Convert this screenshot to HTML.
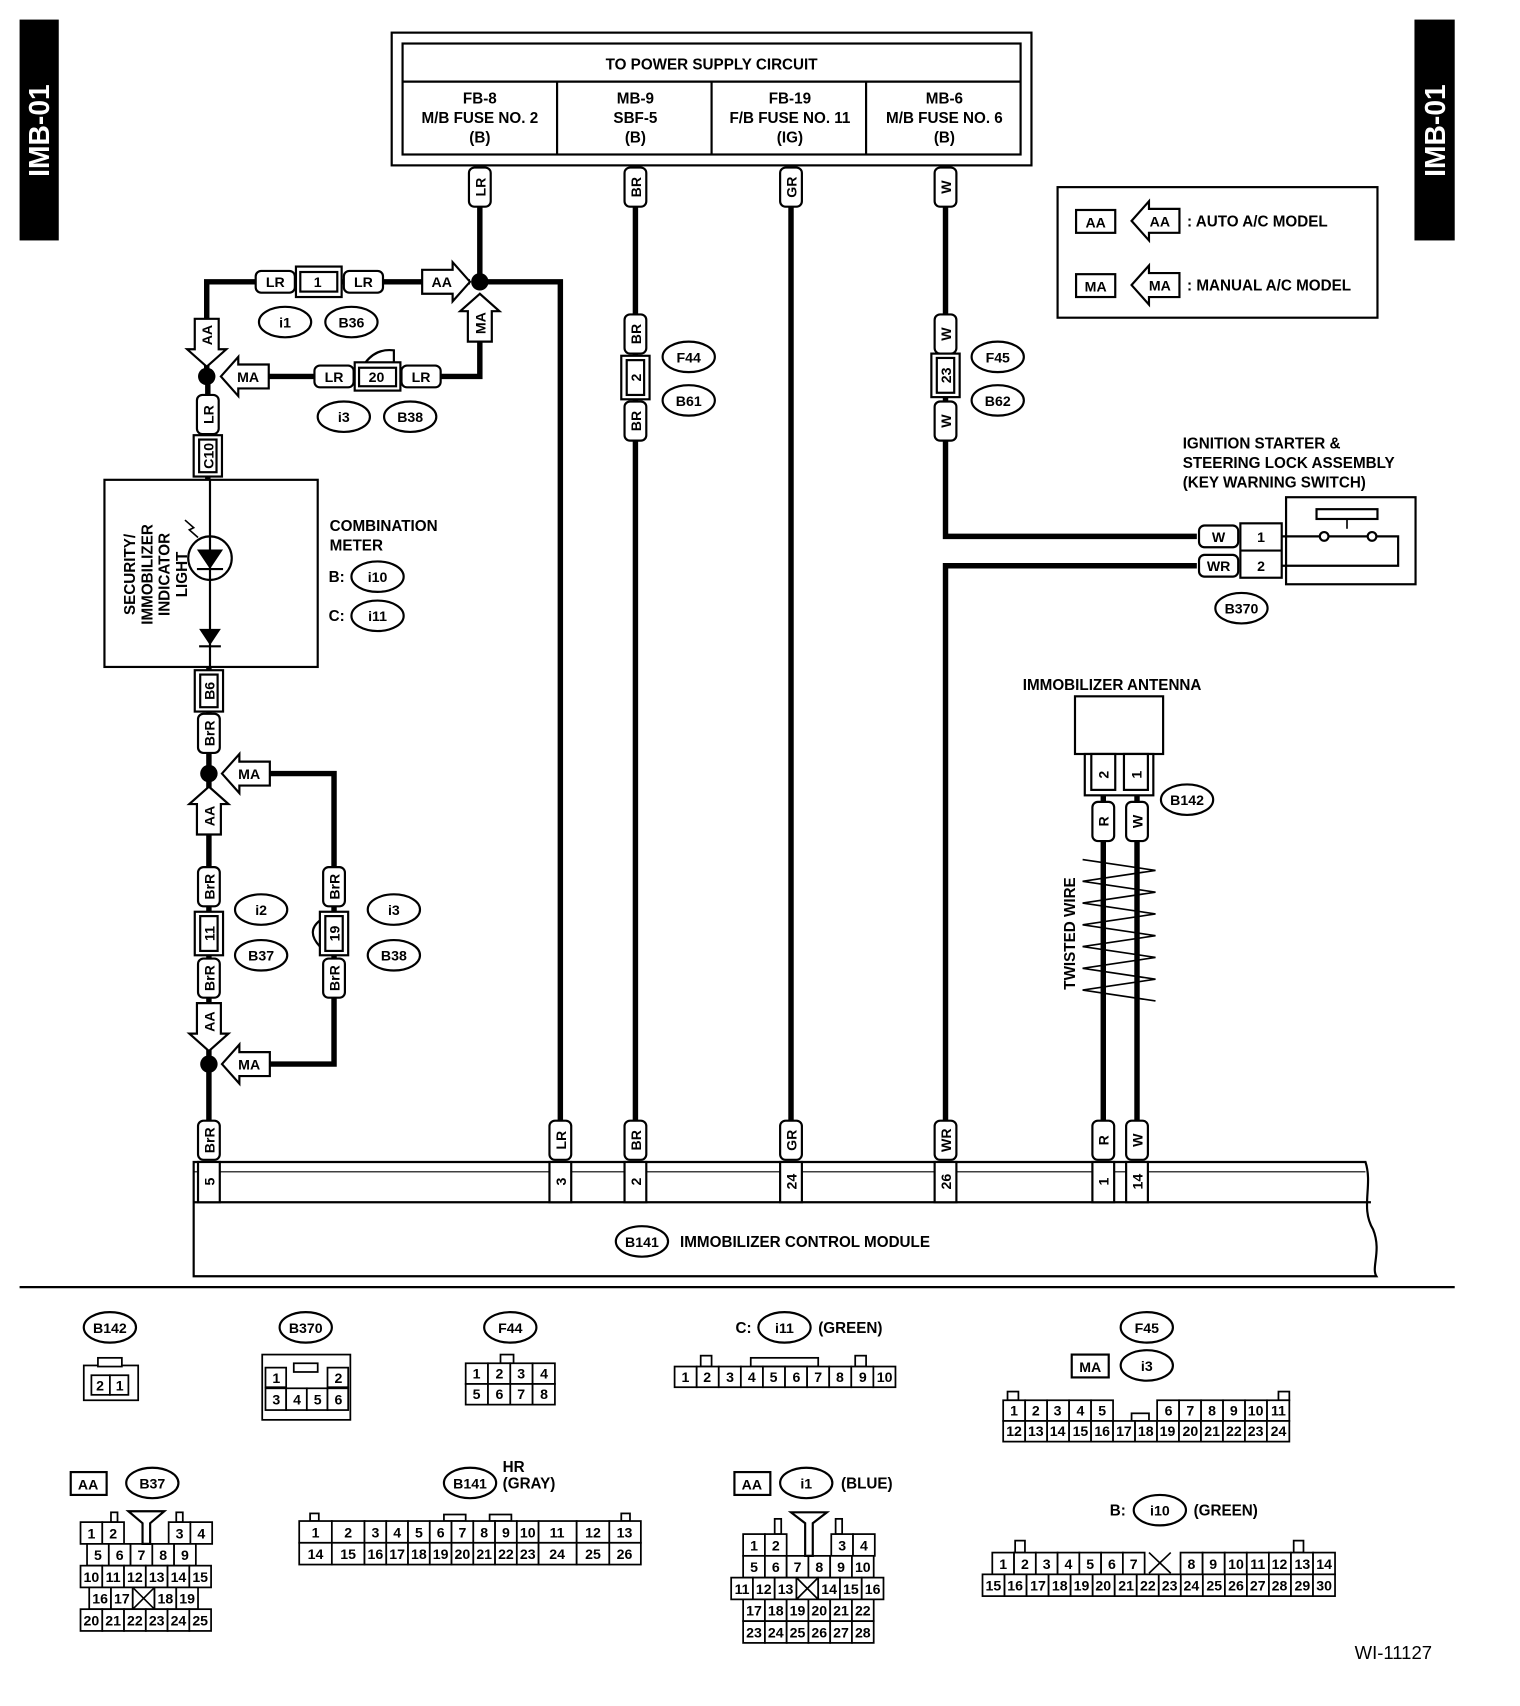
<!DOCTYPE html>
<html><head><meta charset="utf-8"><style>
html,body{margin:0;padding:0;background:#fff;}
svg{display:block;}
text{font-family:"Liberation Sans",sans-serif;font-weight:bold;fill:#000;}
.c{font-size:13px;text-anchor:middle;}
.t{font-size:14px;}
.m{font-size:14px;text-anchor:middle;}
.cell rect{fill:#fff;stroke:#000;stroke-width:1.6;}
</style></head><body>
<svg width="1520" height="1706" viewBox="0 0 1397 1568" preserveAspectRatio="none" xmlns="http://www.w3.org/2000/svg">
<defs>
<path id="arr" d="M0,0 L-16,-18 L-16,-11 L-44,-11 L-44,11 L-16,11 L-16,18 Z" fill="#fff" stroke="#000" stroke-width="2"/>
<rect id="wl" x="-10" y="-18" width="20" height="36" rx="5" fill="#fff" stroke="#000" stroke-width="2"/>
<rect id="wlh" x="-18" y="-10" width="36" height="20" rx="5" fill="#fff" stroke="#000" stroke-width="2"/>
</defs>
<rect x="18" y="18" width="36" height="203" fill="#000"/>
<text transform="translate(45,120) rotate(-90)" font-size="26" text-anchor="middle" style="fill:#fff">IMB-01</text>
<rect x="1300" y="18" width="37" height="203" fill="#000"/>
<text transform="translate(1328,120) rotate(-90)" font-size="26" text-anchor="middle" style="fill:#fff">IMB-01</text>

<rect x="360" y="30" width="588" height="122" fill="none" stroke="#000" stroke-width="2"/>
<rect x="370" y="40" width="568" height="102" fill="none" stroke="#000" stroke-width="2"/>
<line x1="370" y1="75" x2="938" y2="75" stroke="#000" stroke-width="2"/>
<line x1="512" y1="75" x2="512" y2="142" stroke="#000" stroke-width="2"/>
<line x1="654" y1="75" x2="654" y2="142" stroke="#000" stroke-width="2"/>
<line x1="796" y1="75" x2="796" y2="142" stroke="#000" stroke-width="2"/>
<text x="654" y="64" class="m">TO POWER SUPPLY CIRCUIT</text>
<text x="441" y="95" class="m">FB-8</text><text x="441" y="113" class="m">M/B FUSE NO. 2</text><text x="441" y="131" class="m">(B)</text>
<text x="584" y="95" class="m">MB-9</text><text x="584" y="113" class="m">SBF-5</text><text x="584" y="131" class="m">(B)</text>
<text x="726" y="95" class="m">FB-19</text><text x="726" y="113" class="m">F/B FUSE NO. 11</text><text x="726" y="131" class="m">(IG)</text>
<text x="868" y="95" class="m">MB-6</text><text x="868" y="113" class="m">M/B FUSE NO. 6</text><text x="868" y="131" class="m">(B)</text>

<g stroke="#000" stroke-width="5" fill="none">
<path d="M441,190 V259 H515 V1030"/>
<path d="M432,259 H190 V346"/>
<path d="M441,272 V346 H205"/>
<path d="M191,346 V441"/>
<path d="M192,613 V1030"/>
<path d="M205,711 H307 V978 H205"/>
<path d="M584,190 V1030"/>
<path d="M727,190 V1030"/>
<path d="M869,190 V493 H1100"/>
<path d="M1100,520 H869 V1030"/>
<path d="M1014,730 V1030"/>
<path d="M1045,730 V1030"/>
</g>
<path d="M995,790 L1062,800 L995,810 L1062,820 L995,830 L1062,840 L995,850 L1062,860 L995,870 L1062,880 L995,890 L1062,900 L995,910 L1062,920" fill="none" stroke="#000" stroke-width="1.5"/>
<text transform="translate(988,858) rotate(-90)" class="m" font-size="13">TWISTED WIRE</text>

<circle cx="441" cy="259" r="8"/><circle cx="190" cy="346" r="8"/><circle cx="192" cy="711" r="8"/><circle cx="192" cy="978" r="8"/>

<g>
<use href="#wl" x="441" y="172"/><text transform="translate(446,172) rotate(-90)" class="c">LR</text>
<use href="#wl" x="584" y="172"/><text transform="translate(589,172) rotate(-90)" class="c">BR</text>
<use href="#wl" x="727" y="172"/><text transform="translate(732,172) rotate(-90)" class="c">GR</text>
<use href="#wl" x="869" y="172"/><text transform="translate(874,172) rotate(-90)" class="c">W</text>
<use href="#wl" x="191" y="381"/><text transform="translate(196,381) rotate(-90)" class="c">LR</text>
<use href="#wl" x="192" y="674"/><text transform="translate(197,674) rotate(-90)" class="c">BrR</text>
<use href="#wl" x="192" y="815"/><text transform="translate(197,815) rotate(-90)" class="c">BrR</text>
<use href="#wl" x="192" y="899"/><text transform="translate(197,899) rotate(-90)" class="c">BrR</text>
<use href="#wl" x="307" y="815"/><text transform="translate(312,815) rotate(-90)" class="c">BrR</text>
<use href="#wl" x="307" y="899"/><text transform="translate(312,899) rotate(-90)" class="c">BrR</text>
<use href="#wl" x="584" y="307"/><text transform="translate(589,307) rotate(-90)" class="c">BR</text>
<use href="#wl" x="584" y="387"/><text transform="translate(589,387) rotate(-90)" class="c">BR</text>
<use href="#wl" x="869" y="307"/><text transform="translate(874,307) rotate(-90)" class="c">W</text>
<use href="#wl" x="869" y="387"/><text transform="translate(874,387) rotate(-90)" class="c">W</text>
<use href="#wl" x="1014" y="755"/><text transform="translate(1019,755) rotate(-90)" class="c">R</text>
<use href="#wl" x="1045" y="755"/><text transform="translate(1050,755) rotate(-90)" class="c">W</text>
<use href="#wl" x="192" y="1048"/><text transform="translate(197,1048) rotate(-90)" class="c">BrR</text>
<use href="#wl" x="515" y="1048"/><text transform="translate(520,1048) rotate(-90)" class="c">LR</text>
<use href="#wl" x="584" y="1048"/><text transform="translate(589,1048) rotate(-90)" class="c">BR</text>
<use href="#wl" x="727" y="1048"/><text transform="translate(732,1048) rotate(-90)" class="c">GR</text>
<use href="#wl" x="869" y="1048"/><text transform="translate(874,1048) rotate(-90)" class="c">WR</text>
<use href="#wl" x="1014" y="1048"/><text transform="translate(1019,1048) rotate(-90)" class="c">R</text>
<use href="#wl" x="1045" y="1048"/><text transform="translate(1050,1048) rotate(-90)" class="c">W</text>
</g>
<use href="#wlh" x="253" y="259"/><text x="253" y="264" class="c">LR</text>
<use href="#wlh" x="334" y="259"/><text x="334" y="264" class="c">LR</text>
<use href="#wlh" x="307" y="346"/><text x="307" y="351" class="c">LR</text>
<use href="#wlh" x="387" y="346"/><text x="387" y="351" class="c">LR</text>
<use href="#wlh" x="1120" y="493"/><text x="1120" y="498" class="c">W</text>
<use href="#wlh" x="1120" y="520"/><text x="1120" y="525" class="c">WR</text>

<g fill="#fff" stroke="#000" stroke-width="2">
<rect x="272" y="245" width="42" height="28"/><rect x="276" y="250" width="34" height="18"/>
<rect x="326" y="333" width="42" height="26"/><rect x="330" y="338" width="34" height="17"/>
<rect x="178" y="400" width="26" height="38"/><rect x="183" y="404" width="16" height="30"/>
<rect x="179" y="616" width="26" height="38"/><rect x="184" y="620" width="16" height="30"/>
<rect x="179" y="838" width="26" height="40"/><rect x="184" y="842" width="16" height="32"/>
<rect x="294" y="838" width="26" height="40"/><rect x="299" y="842" width="16" height="32"/>
<rect x="571" y="327" width="26" height="40"/><rect x="576" y="331" width="16" height="32"/>
<rect x="856" y="325" width="26" height="40"/><rect x="861" y="329" width="16" height="32"/>
</g>
<path d="M336,333 Q346,320 362,322 V333" fill="none" stroke="#000" stroke-width="2"/>
<path d="M294,846 Q281,856 294,870" fill="none" stroke="#000" stroke-width="2"/>
<text x="292" y="264" class="c">1</text>
<text x="346" y="351" class="c">20</text>
<text transform="translate(196,419) rotate(-90)" class="c">C10</text>
<text transform="translate(197,635) rotate(-90)" class="c">B6</text>
<text transform="translate(197,858) rotate(-90)" class="c">11</text>
<text transform="translate(312,858) rotate(-90)" class="c">19</text>
<text transform="translate(589,347) rotate(-90)" class="c">2</text>
<text transform="translate(874,345) rotate(-90)" class="c">23</text>

<use href="#arr" transform="translate(432,259)"/><text x="406" y="264" class="c">AA</text>
<use href="#arr" transform="translate(190,337) rotate(90)"/><text transform="translate(195,308) rotate(-90)" class="c">AA</text>
<use href="#arr" transform="translate(203,346) rotate(180)"/><text x="228" y="351" class="c">MA</text>
<use href="#arr" transform="translate(441,270) rotate(-90)"/><text transform="translate(446,297) rotate(-90)" class="c">MA</text>
<use href="#arr" transform="translate(204,711) rotate(180)"/><text x="229" y="716" class="c">MA</text>
<use href="#arr" transform="translate(192,723) rotate(-90)"/><text transform="translate(197,750) rotate(-90)" class="c">AA</text>
<use href="#arr" transform="translate(192,966) rotate(90)"/><text transform="translate(197,939) rotate(-90)" class="c">AA</text>
<use href="#arr" transform="translate(204,978) rotate(180)"/><text x="229" y="983" class="c">MA</text>

<g fill="#fff" stroke="#000" stroke-width="2">
<ellipse cx="262" cy="296" rx="24" ry="14"/><ellipse cx="323" cy="296" rx="24" ry="14"/>
<ellipse cx="316" cy="383" rx="24" ry="14"/><ellipse cx="377" cy="383" rx="24" ry="14"/>
<ellipse cx="347" cy="530" rx="24" ry="14"/><ellipse cx="347" cy="566" rx="24" ry="14"/>
<ellipse cx="240" cy="836" rx="24" ry="14"/><ellipse cx="240" cy="878" rx="24" ry="14"/>
<ellipse cx="362" cy="836" rx="24" ry="14"/><ellipse cx="362" cy="878" rx="24" ry="14"/>
<ellipse cx="633" cy="328" rx="24" ry="14"/><ellipse cx="633" cy="368" rx="24" ry="14"/>
<ellipse cx="917" cy="328" rx="24" ry="14"/><ellipse cx="917" cy="368" rx="24" ry="14"/>
<ellipse cx="1141" cy="559" rx="24" ry="14"/><ellipse cx="1091" cy="735" rx="24" ry="14"/>
<ellipse cx="590" cy="1141" rx="24" ry="14"/>
</g>
<text x="262" y="301" class="c">i1</text><text x="323" y="301" class="c">B36</text>
<text x="316" y="388" class="c">i3</text><text x="377" y="388" class="c">B38</text>
<text x="347" y="535" class="c">i10</text><text x="347" y="571" class="c">i11</text>
<text x="240" y="841" class="c">i2</text><text x="240" y="883" class="c">B37</text>
<text x="362" y="841" class="c">i3</text><text x="362" y="883" class="c">B38</text>
<text x="633" y="333" class="c">F44</text><text x="633" y="373" class="c">B61</text>
<text x="917" y="333" class="c">F45</text><text x="917" y="373" class="c">B62</text>
<text x="1141" y="564" class="c">B370</text><text x="1091" y="740" class="c">B142</text>
<text x="590" y="1146" class="c">B141</text>

<rect x="96" y="441" width="196" height="172" fill="#fff" stroke="#000" stroke-width="2"/>
<line x1="193" y1="441" x2="193" y2="613" stroke="#000" stroke-width="2"/>
<circle cx="193" cy="513" r="20" fill="#fff" stroke="#000" stroke-width="2"/>
<line x1="193" y1="493" x2="193" y2="533" stroke="#000" stroke-width="2"/>
<path d="M181,505 H205 L193,523 Z"/><line x1="181" y1="523" x2="205" y2="523" stroke="#000" stroke-width="2"/>
<path d="M183,578 H203 L193,593 Z"/><line x1="183" y1="594" x2="203" y2="594" stroke="#000" stroke-width="2"/>
<path d="M170,478 L178,485 L174,487 L182,494" fill="none" stroke="#000" stroke-width="1.5"/>
<text transform="translate(124,528) rotate(-90)" class="m" font-size="13">SECURITY/</text>
<text transform="translate(140,528) rotate(-90)" class="m" font-size="13">IMMOBILIZER</text>
<text transform="translate(156,528) rotate(-90)" class="m" font-size="13">INDICATOR</text>
<text transform="translate(172,528) rotate(-90)" class="m" font-size="13">LIGHT</text>
<text x="303" y="488" class="t">COMBINATION</text><text x="303" y="506" class="t">METER</text>
<text x="302" y="535" class="t">B:</text><text x="302" y="571" class="t">C:</text>

<rect x="972" y="172" width="294" height="120" fill="none" stroke="#000" stroke-width="2"/>
<rect x="989" y="193" width="36" height="21" fill="#fff" stroke="#000" stroke-width="2"/><text x="1007" y="209" class="c">AA</text>
<use href="#arr" transform="translate(1040,203) rotate(180)"/><text x="1066" y="208" class="c">AA</text>
<text x="1091" y="208" class="t">: AUTO A/C MODEL</text>
<rect x="989" y="252" width="36" height="21" fill="#fff" stroke="#000" stroke-width="2"/><text x="1007" y="268" class="c">MA</text>
<use href="#arr" transform="translate(1040,262) rotate(180)"/><text x="1066" y="267" class="c">MA</text>
<text x="1091" y="267" class="t">: MANUAL A/C MODEL</text>

<text x="1087" y="412" class="t">IGNITION STARTER &amp;</text>
<text x="1087" y="430" class="t">STEERING LOCK ASSEMBLY</text>
<text x="1087" y="448" class="t">(KEY WARNING SWITCH)</text>
<rect x="1182" y="457" width="119" height="80" fill="none" stroke="#000" stroke-width="2"/>
<rect x="1140" y="481" width="38" height="50" fill="#fff" stroke="#000" stroke-width="2"/>
<line x1="1140" y1="506" x2="1178" y2="506" stroke="#000" stroke-width="2"/>
<text x="1159" y="498" class="c">1</text><text x="1159" y="525" class="c">2</text>
<rect x="1210" y="468" width="56" height="9" fill="none" stroke="#000" stroke-width="2"/>
<line x1="1238" y1="477" x2="1238" y2="486" stroke="#000" stroke-width="1.5"/>
<path d="M1178,493 H1213 M1264,493 H1285 V520 H1178 M1220,493 H1257" fill="none" stroke="#000" stroke-width="2"/>
<circle cx="1217" cy="493" r="4" fill="#fff" stroke="#000" stroke-width="2"/><circle cx="1261" cy="493" r="4" fill="#fff" stroke="#000" stroke-width="2"/>

<text x="940" y="634" class="t">IMMOBILIZER ANTENNA</text>
<rect x="988" y="640" width="81" height="53" fill="none" stroke="#000" stroke-width="2"/>
<rect x="997" y="693" width="63" height="38" fill="#fff" stroke="#000" stroke-width="2"/>
<rect x="1003" y="693" width="22" height="33" fill="#fff" stroke="#000" stroke-width="2"/>
<rect x="1033" y="693" width="22" height="33" fill="#fff" stroke="#000" stroke-width="2"/>
<text transform="translate(1019,712) rotate(-90)" class="c">2</text>
<text transform="translate(1049,712) rotate(-90)" class="c">1</text>

<path d="M178,1068 H1255 C1262,1090 1250,1110 1262,1130 C1270,1150 1260,1165 1265,1173 H178 Z" fill="none" stroke="#000" stroke-width="2"/>
<line x1="178" y1="1105" x2="1260" y2="1105" stroke="#000" stroke-width="2"/>
<line x1="178" y1="1077" x2="1255" y2="1077" stroke="#000" stroke-width="1"/>
<g fill="#fff" stroke="#000" stroke-width="2">
<rect x="182" y="1068" width="20" height="37"/><rect x="505" y="1068" width="20" height="37"/>
<rect x="574" y="1068" width="20" height="37"/><rect x="717" y="1068" width="20" height="37"/>
<rect x="859" y="1068" width="20" height="37"/><rect x="1004" y="1068" width="20" height="37"/>
<rect x="1035" y="1068" width="20" height="37"/>
</g>
<text transform="translate(197,1086) rotate(-90)" class="c">5</text>
<text transform="translate(520,1086) rotate(-90)" class="c">3</text>
<text transform="translate(589,1086) rotate(-90)" class="c">2</text>
<text transform="translate(732,1086) rotate(-90)" class="c">24</text>
<text transform="translate(874,1086) rotate(-90)" class="c">26</text>
<text transform="translate(1019,1086) rotate(-90)" class="c">1</text>
<text transform="translate(1050,1086) rotate(-90)" class="c">14</text>
<text x="625" y="1146" class="t">IMMOBILIZER CONTROL MODULE</text>

<line x1="18" y1="1183" x2="1337" y2="1183" stroke="#000" stroke-width="2"/>

<g fill="#fff" stroke="#000" stroke-width="2">
<ellipse cx="101" cy="1220" rx="24" ry="14"/><ellipse cx="281" cy="1220" rx="24" ry="14"/>
<ellipse cx="469" cy="1220" rx="24" ry="14"/><ellipse cx="721" cy="1220" rx="24" ry="14"/>
<ellipse cx="1054" cy="1220" rx="24" ry="14"/><ellipse cx="1054" cy="1255" rx="24" ry="14"/>
<ellipse cx="140" cy="1363" rx="24" ry="14"/><ellipse cx="432" cy="1363" rx="24" ry="14"/>
<ellipse cx="741" cy="1363" rx="24" ry="14"/><ellipse cx="1066" cy="1388" rx="24" ry="14"/>
<rect x="985" y="1245" width="34" height="21"/><rect x="65" y="1353" width="33" height="21"/>
<rect x="675" y="1353" width="33" height="21"/>
</g>
<text x="101" y="1225" class="c">B142</text><text x="281" y="1225" class="c">B370</text>
<text x="469" y="1225" class="c">F44</text><text x="721" y="1225" class="c">i11</text>
<text x="676" y="1225" class="t">C:</text><text x="752" y="1225" class="t">(GREEN)</text>
<text x="1054" y="1225" class="c">F45</text><text x="1054" y="1260" class="c">i3</text><text x="1002" y="1261" class="c">MA</text>
<text x="81" y="1369" class="c">AA</text><text x="140" y="1368" class="c">B37</text>
<text x="432" y="1368" class="c">B141</text><text x="462" y="1353" class="t">HR</text><text x="462" y="1368" class="t">(GRAY)</text>
<text x="691" y="1369" class="c">AA</text><text x="741" y="1368" class="c">i1</text><text x="773" y="1368" class="t">(BLUE)</text>
<text x="1020" y="1393" class="t">B:</text><text x="1066" y="1393" class="c">i10</text><text x="1097" y="1393" class="t">(GREEN)</text>

<g class="cell">
<rect x="77" y="1255" width="50" height="32"/><rect x="90" y="1248" width="22" height="8"/>
<rect x="84" y="1264" width="17" height="18"/><rect x="101" y="1264" width="17" height="18"/>
<rect x="241" y="1245" width="81" height="60"/><rect x="270" y="1253" width="22" height="8"/>
<rect x="244" y="1257" width="19" height="18"/><rect x="301" y="1257" width="19" height="18"/>
<rect x="244" y="1276" width="19" height="20"/><rect x="263" y="1276" width="19" height="20"/><rect x="282" y="1276" width="19" height="20"/><rect x="301" y="1276" width="19" height="20"/>
<rect x="460" y="1245" width="12" height="8"/>
<rect x="428" y="1253" width="20.5" height="19"/><rect x="448.5" y="1253" width="20.5" height="19"/><rect x="469" y="1253" width="20.5" height="19"/><rect x="489.5" y="1253" width="20.5" height="19"/>
<rect x="428" y="1272" width="20.5" height="19"/><rect x="448.5" y="1272" width="20.5" height="19"/><rect x="469" y="1272" width="20.5" height="19"/><rect x="489.5" y="1272" width="20.5" height="19"/>
<rect x="644" y="1246" width="10" height="10"/><rect x="786" y="1246" width="10" height="10"/><rect x="690" y="1248" width="62" height="8"/>
<rect x="620" y="1256" width="20.3" height="19"/><rect x="640.3" y="1256" width="20.3" height="19"/><rect x="660.6" y="1256" width="20.3" height="19"/><rect x="680.9" y="1256" width="20.3" height="19"/><rect x="701.2" y="1256" width="20.3" height="19"/><rect x="721.5" y="1256" width="20.3" height="19"/><rect x="741.8" y="1256" width="20.3" height="19"/><rect x="762.1" y="1256" width="20.3" height="19"/><rect x="782.4" y="1256" width="20.3" height="19"/><rect x="802.7" y="1256" width="20.3" height="19"/>
<rect x="926" y="1279" width="10" height="8"/><rect x="1175" y="1279" width="10" height="8"/><rect x="1040" y="1299" width="16" height="7"/>
<rect x="922" y="1287" width="20.2" height="19"/><rect x="942.2" y="1287" width="20.2" height="19"/><rect x="962.4" y="1287" width="20.2" height="19"/><rect x="982.6" y="1287" width="20.2" height="19"/><rect x="1002.8" y="1287" width="20.2" height="19"/>
<rect x="1063.5" y="1287" width="20.2" height="19"/><rect x="1083.7" y="1287" width="20.2" height="19"/><rect x="1103.9" y="1287" width="20.2" height="19"/><rect x="1124.1" y="1287" width="20.2" height="19"/><rect x="1144.3" y="1287" width="20.2" height="19"/><rect x="1164.5" y="1287" width="20.5" height="19"/>
<rect x="922" y="1306" width="20.2" height="19"/><rect x="942.2" y="1306" width="20.2" height="19"/><rect x="962.4" y="1306" width="20.2" height="19"/><rect x="982.6" y="1306" width="20.2" height="19"/><rect x="1002.8" y="1306" width="20.2" height="19"/><rect x="1023" y="1306" width="20.2" height="19"/><rect x="1043.2" y="1306" width="20.2" height="19"/><rect x="1063.4" y="1306" width="20.2" height="19"/><rect x="1083.6" y="1306" width="20.2" height="19"/><rect x="1103.8" y="1306" width="20.2" height="19"/><rect x="1124" y="1306" width="20.2" height="19"/><rect x="1144.2" y="1306" width="20.2" height="19"/><rect x="1164.4" y="1306" width="20.6" height="19"/>
<rect x="102" y="1390" width="6" height="9"/><rect x="162" y="1390" width="6" height="9"/>
<rect x="74" y="1399" width="20" height="20"/><rect x="94" y="1399" width="20" height="20"/><rect x="155" y="1399" width="20" height="20"/><rect x="175" y="1399" width="20" height="20"/>
<rect x="80" y="1419" width="20" height="20"/><rect x="100" y="1419" width="20" height="20"/><rect x="120" y="1419" width="20" height="20"/><rect x="140" y="1419" width="20" height="20"/><rect x="160" y="1419" width="20" height="20"/>
<rect x="74" y="1439" width="20" height="20"/><rect x="94" y="1439" width="20" height="20"/><rect x="114" y="1439" width="20" height="20"/><rect x="134" y="1439" width="20" height="20"/><rect x="154" y="1439" width="20" height="20"/><rect x="174" y="1439" width="20" height="20"/>
<rect x="82" y="1459" width="20" height="20"/><rect x="102" y="1459" width="20" height="20"/><rect x="122" y="1459" width="20" height="20"/><rect x="142" y="1459" width="20" height="20"/><rect x="162" y="1459" width="20" height="20"/>
<rect x="74" y="1479" width="20" height="20"/><rect x="94" y="1479" width="20" height="20"/><rect x="114" y="1479" width="20" height="20"/><rect x="134" y="1479" width="20" height="20"/><rect x="154" y="1479" width="20" height="20"/><rect x="174" y="1479" width="20" height="20"/>
<rect x="285" y="1391" width="8" height="7"/><rect x="571" y="1391" width="8" height="7"/><rect x="408" y="1392" width="20" height="6"/><rect x="450" y="1392" width="20" height="6"/>
<rect x="275" y="1398" width="30" height="20"/><rect x="305" y="1398" width="30" height="20"/><rect x="335" y="1398" width="20" height="20"/><rect x="355" y="1398" width="20" height="20"/><rect x="375" y="1398" width="20" height="20"/><rect x="395" y="1398" width="20" height="20"/><rect x="415" y="1398" width="20" height="20"/><rect x="435" y="1398" width="20" height="20"/><rect x="455" y="1398" width="20" height="20"/><rect x="475" y="1398" width="20" height="20"/><rect x="495" y="1398" width="35" height="20"/><rect x="530" y="1398" width="30" height="20"/><rect x="560" y="1398" width="29" height="20"/>
<rect x="275" y="1418" width="30" height="20"/><rect x="305" y="1418" width="30" height="20"/><rect x="335" y="1418" width="20" height="20"/><rect x="355" y="1418" width="20" height="20"/><rect x="375" y="1418" width="20" height="20"/><rect x="395" y="1418" width="20" height="20"/><rect x="415" y="1418" width="20" height="20"/><rect x="435" y="1418" width="20" height="20"/><rect x="455" y="1418" width="20" height="20"/><rect x="475" y="1418" width="20" height="20"/><rect x="495" y="1418" width="35" height="20"/><rect x="530" y="1418" width="30" height="20"/><rect x="560" y="1418" width="29" height="20"/>
<rect x="712" y="1396" width="6" height="14"/><rect x="768" y="1396" width="6" height="14"/>
<rect x="683" y="1410" width="20" height="20"/><rect x="703" y="1410" width="20" height="20"/><rect x="764" y="1410" width="20" height="20"/><rect x="784" y="1410" width="20" height="20"/>
<rect x="683" y="1430" width="20" height="20"/><rect x="703" y="1430" width="20" height="20"/><rect x="723" y="1430" width="20" height="20"/><rect x="743" y="1430" width="20" height="20"/><rect x="763" y="1430" width="20" height="20"/><rect x="783" y="1430" width="20" height="20"/>
<rect x="672" y="1450" width="20" height="20"/><rect x="692" y="1450" width="20" height="20"/><rect x="712" y="1450" width="20" height="20"/><rect x="732" y="1450" width="20" height="20"/><rect x="752" y="1450" width="20" height="20"/><rect x="772" y="1450" width="20" height="20"/><rect x="792" y="1450" width="20" height="20"/>
<rect x="683" y="1470" width="20" height="20"/><rect x="703" y="1470" width="20" height="20"/><rect x="723" y="1470" width="20" height="20"/><rect x="743" y="1470" width="20" height="20"/><rect x="763" y="1470" width="20" height="20"/><rect x="783" y="1470" width="20" height="20"/>
<rect x="683" y="1490" width="20" height="20"/><rect x="703" y="1490" width="20" height="20"/><rect x="723" y="1490" width="20" height="20"/><rect x="743" y="1490" width="20" height="20"/><rect x="763" y="1490" width="20" height="20"/><rect x="783" y="1490" width="20" height="20"/>
<rect x="933" y="1416" width="9" height="11"/><rect x="1189" y="1416" width="9" height="11"/>
<rect x="912" y="1427" width="20" height="20"/><rect x="932" y="1427" width="20" height="20"/><rect x="952" y="1427" width="20" height="20"/><rect x="972" y="1427" width="20" height="20"/><rect x="992" y="1427" width="20" height="20"/><rect x="1012" y="1427" width="20" height="20"/><rect x="1032" y="1427" width="20" height="20"/>
<rect x="1085" y="1427" width="20.3" height="20"/><rect x="1105.3" y="1427" width="20.3" height="20"/><rect x="1125.6" y="1427" width="20.3" height="20"/><rect x="1145.9" y="1427" width="20.3" height="20"/><rect x="1166.2" y="1427" width="20.3" height="20"/><rect x="1186.5" y="1427" width="20.3" height="20"/><rect x="1206.8" y="1427" width="20.2" height="20"/>
<rect x="903" y="1447" width="20.25" height="20"/><rect x="923.25" y="1447" width="20.25" height="20"/><rect x="943.5" y="1447" width="20.25" height="20"/><rect x="963.75" y="1447" width="20.25" height="20"/><rect x="984" y="1447" width="20.25" height="20"/><rect x="1004.25" y="1447" width="20.25" height="20"/><rect x="1024.5" y="1447" width="20.25" height="20"/><rect x="1044.75" y="1447" width="20.25" height="20"/><rect x="1065" y="1447" width="20.25" height="20"/><rect x="1085.25" y="1447" width="20.25" height="20"/><rect x="1105.5" y="1447" width="20.25" height="20"/><rect x="1125.75" y="1447" width="20.25" height="20"/><rect x="1146" y="1447" width="20.25" height="20"/><rect x="1166.25" y="1447" width="20.25" height="20"/><rect x="1186.5" y="1447" width="20.25" height="20"/><rect x="1206.75" y="1447" width="20.25" height="20"/>
</g>
<path d="M118,1389 H151 L138,1400 V1419 H131 V1400 Z" fill="#fff" stroke="#000" stroke-width="2"/>
<path d="M727,1390 H760 L747,1400 V1430 H740 V1400 Z" fill="#fff" stroke="#000" stroke-width="2"/>
<path d="M122,1459 L142,1479 M142,1459 L122,1479" stroke="#000" stroke-width="1.5"/>
<path d="M732,1450 L752,1470 M752,1450 L732,1470" stroke="#000" stroke-width="1.5"/>
<path d="M1056,1427 L1076,1446 M1076,1427 L1056,1446" stroke="#000" stroke-width="1.5"/>

<g class="c" font-size="12">
<text x="92" y="1278">2</text><text x="110" y="1278">1</text>
<text x="254" y="1271">1</text><text x="311" y="1271">2</text>
<text x="254" y="1291">3</text><text x="273" y="1291">4</text><text x="292" y="1291">5</text><text x="311" y="1291">6</text>
<text x="438" y="1267">1</text><text x="459" y="1267">2</text><text x="479" y="1267">3</text><text x="500" y="1267">4</text>
<text x="438" y="1286">5</text><text x="459" y="1286">6</text><text x="479" y="1286">7</text><text x="500" y="1286">8</text>
<text x="630" y="1270">1</text><text x="650" y="1270">2</text><text x="671" y="1270">3</text><text x="691" y="1270">4</text><text x="711" y="1270">5</text><text x="732" y="1270">6</text><text x="752" y="1270">7</text><text x="772" y="1270">8</text><text x="793" y="1270">9</text><text x="813" y="1270">10</text>
<text x="932" y="1301">1</text><text x="952" y="1301">2</text><text x="972" y="1301">3</text><text x="993" y="1301">4</text><text x="1013" y="1301">5</text>
<text x="1074" y="1301">6</text><text x="1094" y="1301">7</text><text x="1114" y="1301">8</text><text x="1134" y="1301">9</text><text x="1154" y="1301">10</text><text x="1175" y="1301">11</text>
<text x="932" y="1320">12</text><text x="952" y="1320">13</text><text x="972" y="1320">14</text><text x="993" y="1320">15</text><text x="1013" y="1320">16</text><text x="1033" y="1320">17</text><text x="1053" y="1320">18</text><text x="1073" y="1320">19</text><text x="1094" y="1320">20</text><text x="1114" y="1320">21</text><text x="1134" y="1320">22</text><text x="1154" y="1320">23</text><text x="1175" y="1320">24</text>
<text x="84" y="1414">1</text><text x="104" y="1414">2</text><text x="165" y="1414">3</text><text x="185" y="1414">4</text>
<text x="90" y="1434">5</text><text x="110" y="1434">6</text><text x="130" y="1434">7</text><text x="150" y="1434">8</text><text x="170" y="1434">9</text>
<text x="84" y="1454">10</text><text x="104" y="1454">11</text><text x="124" y="1454">12</text><text x="144" y="1454">13</text><text x="164" y="1454">14</text><text x="184" y="1454">15</text>
<text x="92" y="1474">16</text><text x="112" y="1474">17</text><text x="152" y="1474">18</text><text x="172" y="1474">19</text>
<text x="84" y="1494">20</text><text x="104" y="1494">21</text><text x="124" y="1494">22</text><text x="144" y="1494">23</text><text x="164" y="1494">24</text><text x="184" y="1494">25</text>
<text x="290" y="1413">1</text><text x="320" y="1413">2</text><text x="345" y="1413">3</text><text x="365" y="1413">4</text><text x="385" y="1413">5</text><text x="405" y="1413">6</text><text x="425" y="1413">7</text><text x="445" y="1413">8</text><text x="465" y="1413">9</text><text x="485" y="1413">10</text><text x="512" y="1413">11</text><text x="545" y="1413">12</text><text x="574" y="1413">13</text>
<text x="290" y="1433">14</text><text x="320" y="1433">15</text><text x="345" y="1433">16</text><text x="365" y="1433">17</text><text x="385" y="1433">18</text><text x="405" y="1433">19</text><text x="425" y="1433">20</text><text x="445" y="1433">21</text><text x="465" y="1433">22</text><text x="485" y="1433">23</text><text x="512" y="1433">24</text><text x="545" y="1433">25</text><text x="574" y="1433">26</text>
<text x="693" y="1425">1</text><text x="713" y="1425">2</text><text x="774" y="1425">3</text><text x="794" y="1425">4</text>
<text x="693" y="1445">5</text><text x="713" y="1445">6</text><text x="733" y="1445">7</text><text x="753" y="1445">8</text><text x="773" y="1445">9</text><text x="793" y="1445">10</text>
<text x="682" y="1465">11</text><text x="702" y="1465">12</text><text x="722" y="1465">13</text><text x="762" y="1465">14</text><text x="782" y="1465">15</text><text x="802" y="1465">16</text>
<text x="693" y="1485">17</text><text x="713" y="1485">18</text><text x="733" y="1485">19</text><text x="753" y="1485">20</text><text x="773" y="1485">21</text><text x="793" y="1485">22</text>
<text x="693" y="1505">23</text><text x="713" y="1505">24</text><text x="733" y="1505">25</text><text x="753" y="1505">26</text><text x="773" y="1505">27</text><text x="793" y="1505">28</text>
<text x="922" y="1442">1</text><text x="942" y="1442">2</text><text x="962" y="1442">3</text><text x="982" y="1442">4</text><text x="1002" y="1442">5</text><text x="1022" y="1442">6</text><text x="1042" y="1442">7</text>
<text x="1095" y="1442">8</text><text x="1115" y="1442">9</text><text x="1136" y="1442">10</text><text x="1156" y="1442">11</text><text x="1176" y="1442">12</text><text x="1197" y="1442">13</text><text x="1217" y="1442">14</text>
<text x="913" y="1462">15</text><text x="933" y="1462">16</text><text x="954" y="1462">17</text><text x="974" y="1462">18</text><text x="994" y="1462">19</text><text x="1014" y="1462">20</text><text x="1035" y="1462">21</text><text x="1055" y="1462">22</text><text x="1075" y="1462">23</text><text x="1095" y="1462">24</text><text x="1116" y="1462">25</text><text x="1136" y="1462">26</text><text x="1156" y="1462">27</text><text x="1176" y="1462">28</text><text x="1197" y="1462">29</text><text x="1217" y="1462">30</text>
</g>
<text x="1245" y="1525" font-size="17" style="font-weight:normal">WI-11127</text>
</svg>
</body></html>
